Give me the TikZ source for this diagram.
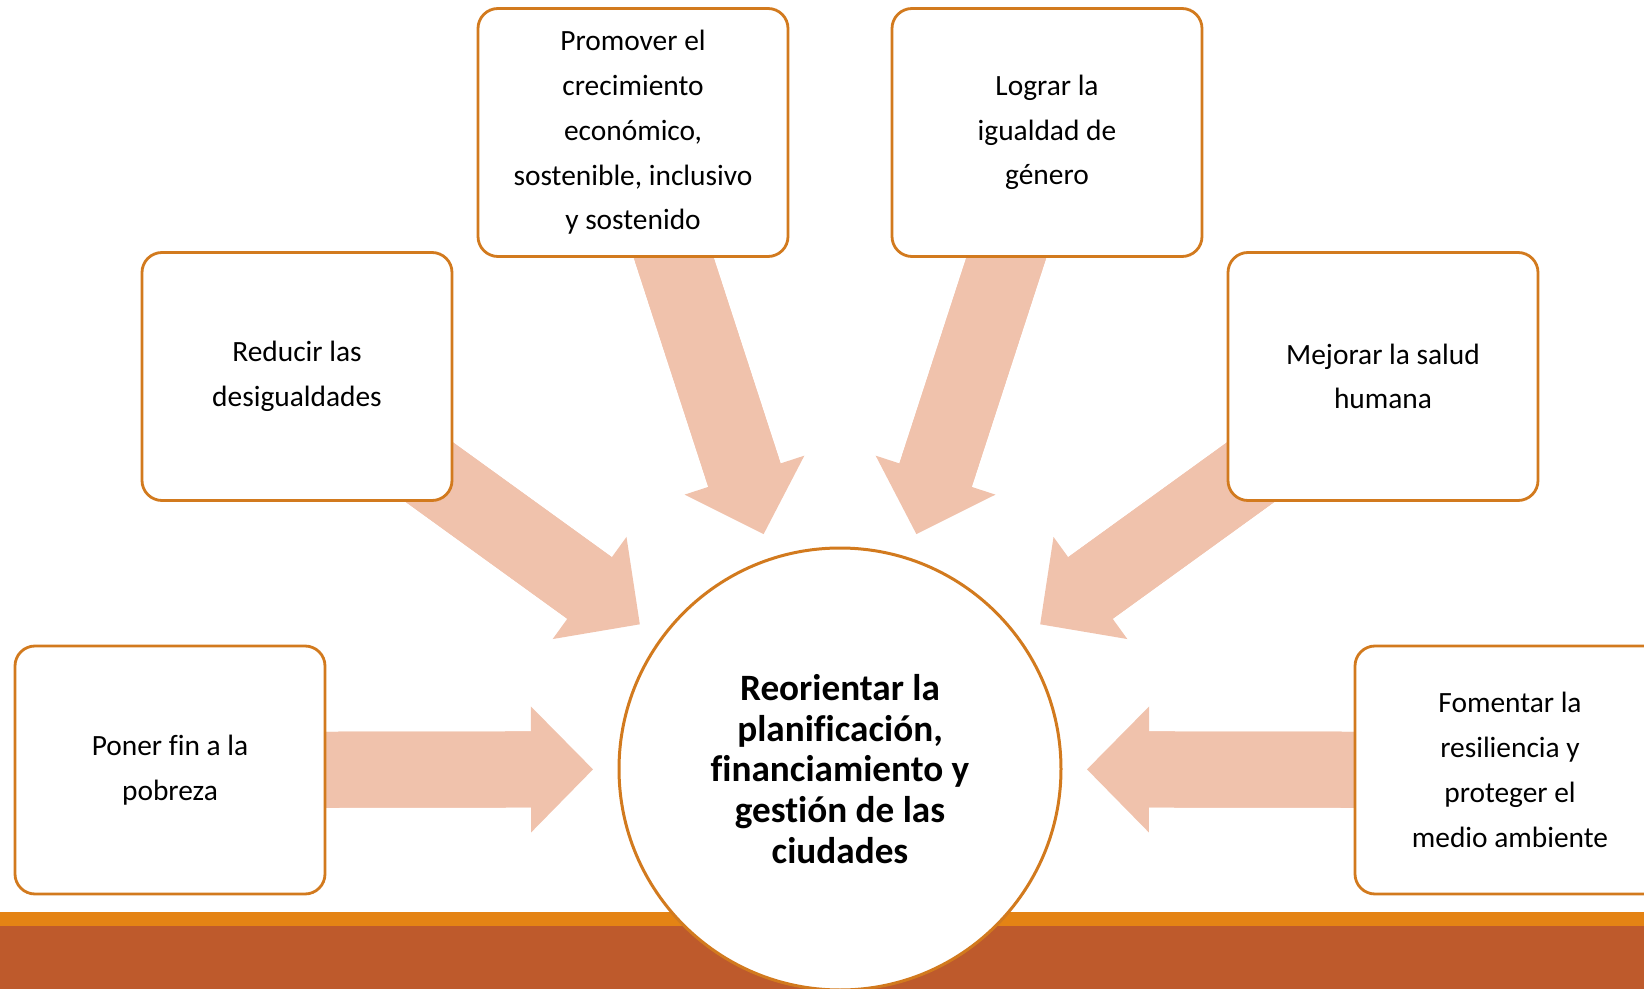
\documentclass[tikz,border=0pt]{standalone}
\usepackage{fontspec}
\setmainfont{Carlito}[Ligatures={NoCommon}]
\usetikzlibrary{arrows.meta, backgrounds}
\definecolor{medge}{HTML}{D27A1E}
\definecolor{mpeach}{HTML}{F0C2AC}
\definecolor{morange}{HTML}{E48314}
\definecolor{mrust}{HTML}{BE5A2C}
\tikzstyle{goal} = [rectangle, rounded corners=10pt, minimum width=155pt, minimum height=124pt, draw=medge, line width=1.4pt, fill=white, text centered, font=\fontsize{14.7}{22.4}\selectfont]
\tikzstyle{hub} = [circle, minimum size=221pt, draw=medge, line width=1.5pt, fill=white, text centered, font=\fontsize{18.6}{20.4}\selectfont\bfseries]
\tikzstyle{push} = [line width=38pt, mpeach, -{Triangle[length=31pt, width=63pt, line width=0pt]}, shorten >=12.25pt, postaction={draw, -, shorten >=33pt}]

\begin{document}
\begin{tikzpicture}[align=center, x=0.5pt, y=-0.5pt]
\useasboundingbox (0,0) rectangle (1644,989);
\clip (0,0) rectangle (1644,989);
%Centre
\node (hub) [hub] at (840,769) {Reorientar la\\planificación,\\financiamiento y\\gestión de las\\ciudades};
%Goals
\node (pobreza) [goal] at (170,770) {Poner fin a la\\pobreza};
\node (desig) [goal] at (297,376.5) {Reducir las\\desigualdades};
\node (crec) [goal] at (633,132.5) {Promover el\\crecimiento\\económico,\\sostenible, inclusivo\\y sostenido};
\node (genero) [goal] at (1047,132.5) {Lograr la\\igualdad de\\género};
\node (salud) [goal] at (1383,376.5) {Mejorar la salud\\humana};
\node (resil) [goal] at (1510,770) {Fomentar la\\resiliencia y\\proteger el\\medio ambiente};
\begin{pgfonlayer}{background}
%Footer bars
\fill [morange] (0,912) rectangle (1644,926);
\fill [mrust] (0,926) rectangle (1644,989);
%Arrows
\draw [push] (pobreza.center) -- (hub);
\draw [push] (desig.center) -- (hub);
\draw [push] (crec.center) -- (hub);
\draw [push] (genero.center) -- (hub);
\draw [push] (salud.center) -- (hub);
\draw [push] (resil.center) -- (hub);
\end{pgfonlayer}
\end{tikzpicture}
\end{document}
